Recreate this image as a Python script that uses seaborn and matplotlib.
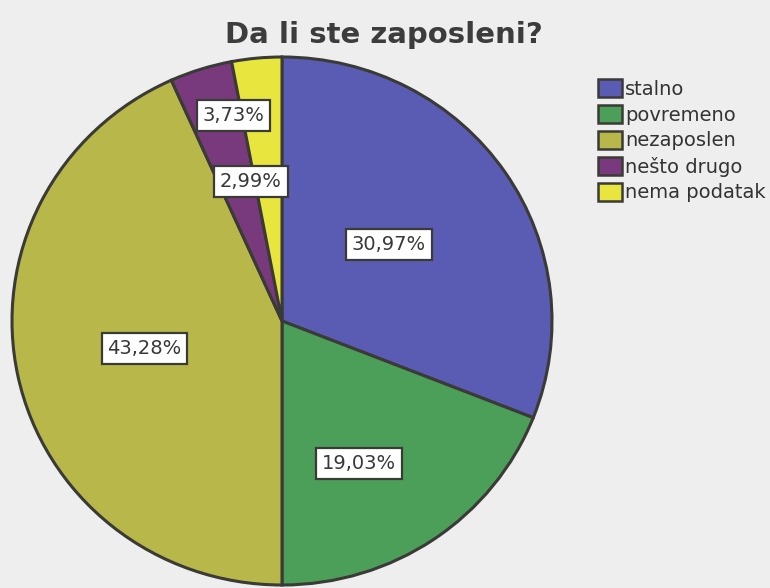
import numpy as np
import matplotlib
matplotlib.use("Agg")
import matplotlib.pyplot as plt
import seaborn as sns
from matplotlib.patches import Patch

categories = ["stalno", "povremeno", "nezaposlen", "nešto drugo", "nema podatak"]
values = [30.97, 19.03, 43.28, 3.73, 2.99]
pct_labels = ["30,97%", "19,03%", "43,28%", "3,73%", "2,99%"]
title = "Da li ste zaposleni?"

colors = ["#5a5cb4", "#4b9f58", "#b7b74a", "#783a7c", "#e8e63e"]
label_dist = [0.49, 0.61, 0.52, 0.80, 0.54]
label_shift = [2.0, -6.5, -0.5, -4.5, 7.0]

sns.set_theme(style="white")
plt.rcParams['font.family'] = ['DejaVu Sans']
sns.set_palette(colors)

W, H = 770, 588
fig = plt.figure(figsize=(W / 100, H / 100), dpi=100)
bg = "#eeeeee"
fig.patch.set_facecolor(bg)

cx, cy, rx, ry = 282, 321, 270, 264
ax = fig.add_axes([(cx - rx) / W, (H - cy - ry) / H, 2 * rx / W, 2 * ry / H])
ax.set_facecolor("none")
edge = "#3a3a36"
wedges, _ = ax.pie(values, colors=sns.color_palette(), startangle=90, counterclock=False,
                   radius=1.0, wedgeprops=dict(edgecolor=edge, linewidth=2.2))
for w in wedges:
    w.set_clip_on(False)
ax.set_xlim(-1, 1)
ax.set_ylim(-1, 1)
ax.set_aspect("auto")
ax.axis("off")

for w, lab, d, s in zip(wedges, pct_labels, label_dist, label_shift):
    ang = np.deg2rad((w.theta1 + w.theta2) / 2 + s)
    ax.text(d * np.cos(ang), d * np.sin(ang), lab, ha="center", va="center",
            fontsize=14, color="#383838",
            bbox=dict(boxstyle="square,pad=0.3", facecolor="white", edgecolor=edge, linewidth=1.6))

fig.text(384 / W, 1 - 35 / H, title, ha="center", va="center",
         fontsize=21, fontweight="bold", color="#3c3c3c")

handles = [Patch(facecolor=c, edgecolor=edge, linewidth=1.8) for c in colors]
fig.legend(handles, categories, loc="upper left", bbox_to_anchor=(598 / W, 1 - 79 / H),
           frameon=False, fontsize=14, handlelength=1.25, handleheight=1.05,
           handletextpad=0.15, labelspacing=0.32, borderpad=0, borderaxespad=0,
           labelcolor="#333333")

fig.savefig("out.png", dpi=100, facecolor=bg)
